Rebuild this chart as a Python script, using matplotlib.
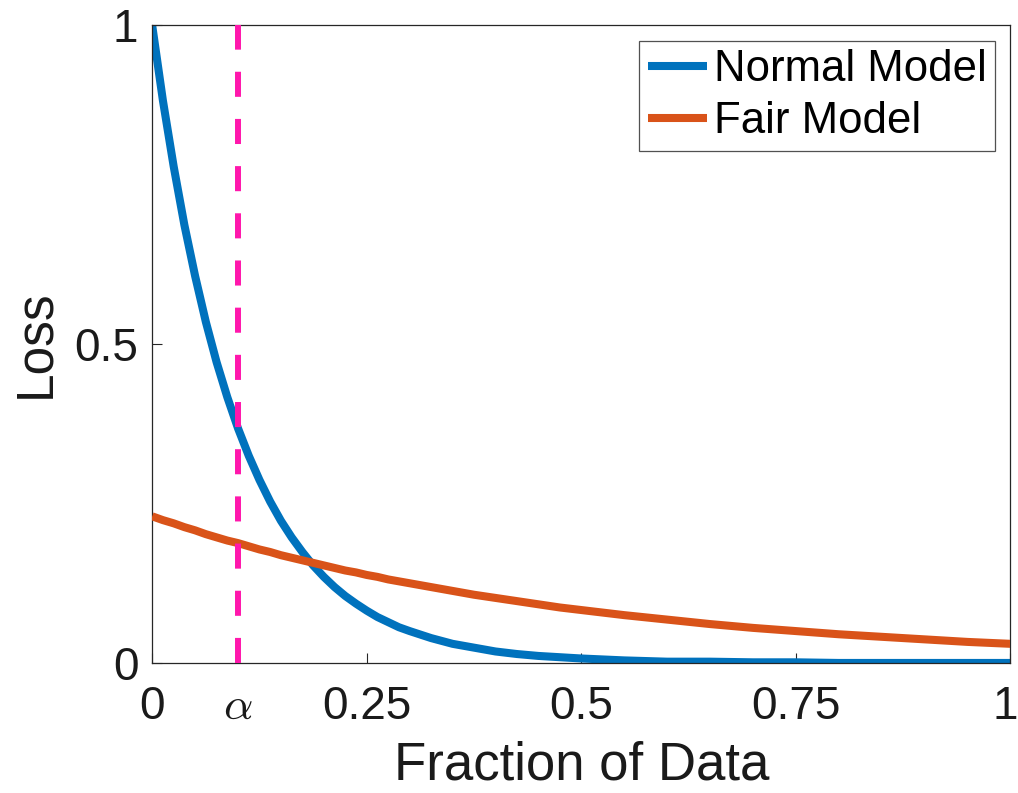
import matplotlib
matplotlib.use('Agg')
import matplotlib.pyplot as plt
import matplotlib.transforms as mtransforms

plt.rcParams['font.family'] = ['Liberation Sans', 'DejaVu Sans']
plt.rcParams['mathtext.fontset'] = 'cm'

# values
frac = [0.0, 0.0125, 0.025, 0.0375, 0.05, 0.0625, 0.075, 0.0875, 0.1,
        0.1125, 0.125, 0.1375, 0.15, 0.1625, 0.175, 0.1875, 0.2, 0.2125,
        0.225, 0.2375, 0.25, 0.2625, 0.275, 0.2875, 0.3, 0.325, 0.35, 0.375,
        0.4, 0.425, 0.45, 0.475, 0.5, 0.55, 0.6, 0.65, 0.7, 0.75, 0.8, 0.85,
        0.9, 0.95, 1.0]
normal_loss = [1.000, 0.882, 0.779, 0.687, 0.607, 0.535, 0.472, 0.417, 0.368,
               0.325, 0.287, 0.253, 0.223, 0.197, 0.174, 0.153, 0.135, 0.119,
               0.105, 0.093, 0.082, 0.072, 0.064, 0.056, 0.050, 0.039, 0.030,
               0.024, 0.018, 0.014, 0.011, 0.009, 0.007, 0.004, 0.002, 0.002,
               0.001, 0.001, 0.000, 0.000, 0.000, 0.000, 0.000]
fair_loss = [0.230, 0.224, 0.219, 0.213, 0.208, 0.202, 0.197, 0.192, 0.188,
             0.183, 0.178, 0.174, 0.169, 0.165, 0.161, 0.157, 0.153, 0.149,
             0.145, 0.142, 0.138, 0.135, 0.131, 0.128, 0.125, 0.119, 0.113,
             0.107, 0.102, 0.097, 0.092, 0.087, 0.083, 0.075, 0.068, 0.061,
             0.055, 0.050, 0.045, 0.041, 0.037, 0.033, 0.030]
alpha = 0.1

xticks = [0, alpha, 0.25, 0.5, 0.75, 1]
xticklabels = ['0', r'$\alpha$', '0.25', '0.5', '0.75', '1']
yticks = [0, 0.5, 1]
yticklabels = ['0', '0.5', '1']

BLUE = '#0072BD'
ORANGE = '#D95319'
PINK = '#FF17AC'
AXC = '#262626'
TXT = '#1a1a1a'

fig = plt.figure(figsize=(10.18, 7.93), dpi=100)
ax = fig.add_axes([0.1495, 0.164, 0.843, 0.804])

ax.plot(frac, normal_loss, color=BLUE, lw=5.8, label='Normal Model',
        solid_capstyle='butt', zorder=2)
ax.plot(frac, fair_loss, color=ORANGE, lw=5.8, label='Fair Model',
        solid_capstyle='butt', zorder=3)
ax.axvline(alpha, color=PINK, lw=4.3, dashes=(4.2, 3.7), zorder=4)

ax.set_xlim(0, 1)
ax.set_ylim(0, 1)
ax.set_xticks(xticks)
ax.set_xticklabels(xticklabels)
ax.set_yticks(yticks)
ax.set_yticklabels(yticklabels)
ax.tick_params(direction='in', length=7, width=0.8, color=AXC,
               labelsize=33, labelcolor=TXT)
ax.tick_params(axis='x', pad=16)
ax.tick_params(axis='y', pad=10)
for s in ax.spines.values():
    s.set_color(AXC)
    s.set_linewidth(0.9)

# keep the last x label inside the figure edge
last = ax.get_xticklabels()[-1]
last.set_transform(last.get_transform() +
                   mtransforms.ScaledTranslation(-5 / 100, 0, fig.dpi_scale_trans))

ax.set_xlabel('Fraction of Data', fontsize=38, color=TXT, labelpad=8)
ax.set_ylabel('Loss', fontsize=37, color=TXT, labelpad=10)

leg = ax.legend(loc='upper right', fontsize=31.5, frameon=True, fancybox=False,
                handlelength=1.35, handletextpad=0.15, borderpad=0.2,
                labelspacing=0.25, borderaxespad=0.35)
leg.get_frame().set_edgecolor(AXC)
leg.get_frame().set_linewidth(0.9)

fig.savefig('out.png', dpi=100)
